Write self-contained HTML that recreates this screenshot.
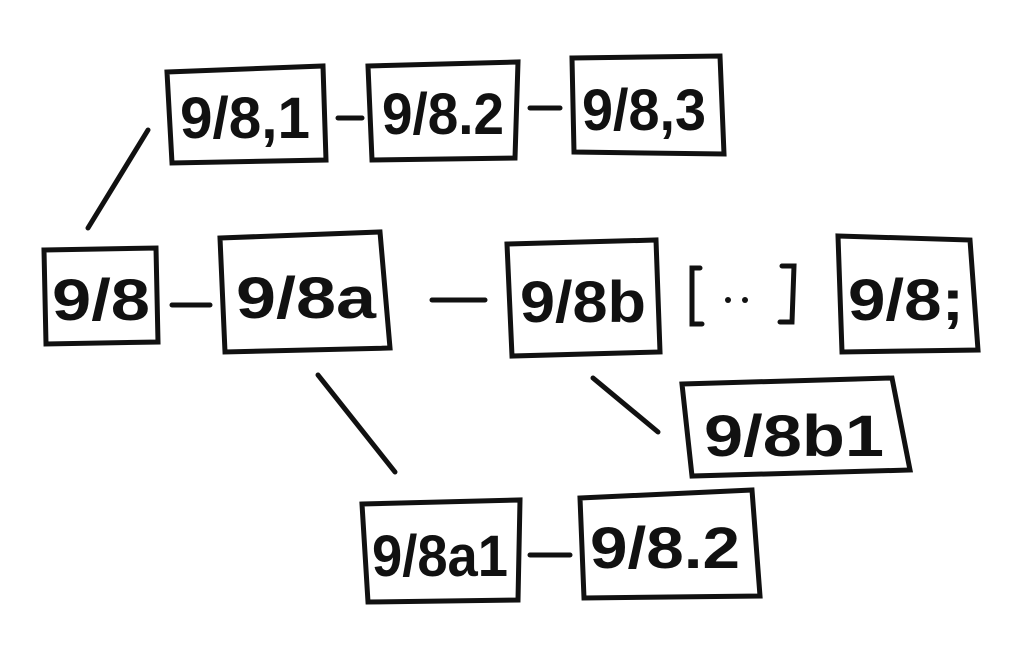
<!DOCTYPE html>
<html><head><style>
html,body{margin:0;padding:0;background:#fff;}
svg{display:block}
text{font-family:"Liberation Sans",sans-serif;font-size:58px;font-weight:bold;fill:#111;}
</style></head><body>
<svg width="1024" height="661" viewBox="0 0 1024 661">
<g fill="none" stroke="#111" stroke-width="5" stroke-linecap="round">
<polygon points="167,72 323,66 326,160 172,163"/>
<polygon points="368,66 518,62 515,158 372,160"/>
<polygon points="572,58 720,56 724,154 574,152"/>
<polygon points="44,250 156,248 158,342 46,344"/>
<polygon points="220,238 380,232 390,348 225,352"/>
<polygon points="507,244 656,240 660,352 512,356"/>
<polygon points="838,236 970,240 978,350 842,352"/>
<polygon points="682,384 892,378 910,470 692,476"/>
<polygon points="362,504 520,500 518,600 368,602"/>
<polygon points="580,498 752,490 760,596 584,598"/>
<line x1="88" y1="228" x2="148" y2="130"/>
<line x1="338" y1="118" x2="362" y2="118"/>
<line x1="530" y1="108" x2="560" y2="108"/>
<line x1="172" y1="305" x2="210" y2="305"/>
<line x1="432" y1="300" x2="485" y2="300"/>
<line x1="318" y1="375" x2="395" y2="472"/>
<line x1="593" y1="378" x2="658" y2="432"/>
<line x1="530" y1="555" x2="570" y2="555"/>
<polyline points="700,268 692,268 692,324 702,324"/>
<polyline points="782,266 794,266 792,322 780,322"/>
</g>
<circle cx="728" cy="300" r="3" fill="#111"/>
<circle cx="745" cy="300" r="3" fill="#111"/>
<text x="180" y="138" textLength="130" lengthAdjust="spacingAndGlyphs">9/8,1</text>
<text x="382" y="134" textLength="122" lengthAdjust="spacingAndGlyphs">9/8.2</text>
<text x="582" y="130" textLength="124" lengthAdjust="spacingAndGlyphs">9/8,3</text>
<text x="52" y="320" textLength="98" lengthAdjust="spacingAndGlyphs">9/8</text>
<text x="236" y="318" textLength="140" lengthAdjust="spacingAndGlyphs">9/8a</text>
<text x="520" y="322" textLength="126" lengthAdjust="spacingAndGlyphs">9/8b</text>
<text x="848" y="320" textLength="116" lengthAdjust="spacingAndGlyphs">9/8;</text>
<text x="704" y="456" textLength="180" lengthAdjust="spacingAndGlyphs">9/8b1</text>
<text x="372" y="576" textLength="136" lengthAdjust="spacingAndGlyphs">9/8a1</text>
<text x="590" y="568" textLength="150" lengthAdjust="spacingAndGlyphs">9/8.2</text>
</svg>
</body></html>
